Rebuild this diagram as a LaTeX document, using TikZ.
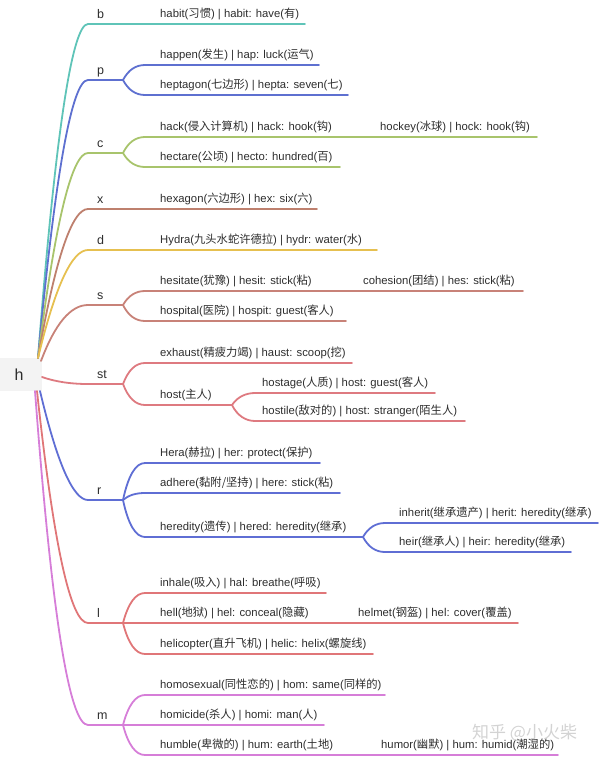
\documentclass[tikz,border=0pt]{standalone}
\usepackage{fontspec}
\setmainfont{Liberation Sans}
\newfontfamily\cjk{Noto Sans CJK SC}
\newcommand\zh[1]{{\cjk #1}}
\definecolor{txt}{RGB}{45,45,45}
\definecolor{rootgray}{RGB}{243,243,243}
\definecolor{colb}{RGB}{95,196,184}
\definecolor{colp}{RGB}{94,112,208}
\definecolor{colc}{RGB}{168,196,108}
\definecolor{colx}{RGB}{190,128,110}
\definecolor{cold}{RGB}{230,192,80}
\definecolor{cols}{RGB}{200,130,120}
\definecolor{colst}{RGB}{222,122,128}
\definecolor{colr}{RGB}{95,110,212}
\definecolor{coll}{RGB}{224,118,120}
\definecolor{colm}{RGB}{214,126,216}
\definecolor{wm}{RGB}{200,200,200}
\newcommand\forklink[5]{\draw[br,#1] (#2) .. controls +(5.3,#4) and +(-9.3,0) .. (#3) -- (#5);}
\begin{document}
\begin{tikzpicture}[x=1pt,y=-1pt,
  br/.style={line width=1.8pt, line cap=round, line join=round},
  leaf/.style={anchor=base west, inner sep=0pt, text=txt, font=\fontsize{11.3}{13}\selectfont},
  topic/.style={anchor=base west, inner sep=0pt, text=txt, font=\fontsize{12.5}{14}\selectfont},
  rootbox/.style={fill=rootgray, minimum width=46pt, minimum height=33pt, inner sep=0pt, text=txt, font=\fontsize{16}{18}\selectfont}
]
\useasboundingbox (0,0) rectangle (600,758);

% root
\node[rootbox] (h) at (19,374.5) {h};
\coordinate (hb) at (38,358);
\coordinate (hp) at (38,358);
\coordinate (hc) at (38,358);
\coordinate (hx) at (38,358);
\coordinate (hd) at (38,358);
\coordinate (hs) at (41,361);
\coordinate (hst) at (42,377);
\coordinate (hr) at (40,391);
\coordinate (hl) at (37,391);
\coordinate (hm) at (35,391);

% ---------- b
\node[topic] (b) at (97,18) {b};
\coordinate (b-s) at (88,24);
\node[leaf] (b1) at (160,17) {habit(\zh{习惯}) | habit: have(\zh{有})};
\coordinate (b1-e) at (305,24);
\draw[br,colb] (hb) .. controls +(17.3,-222.7) and +(-16,0) .. (b-s) -- (b1-e);

% ---------- p
\node[topic] (p) at (97,74) {p};
\coordinate (p-s) at (88,80); \coordinate (p-f) at (123,80);
\node[leaf] (p1) at (160,58) {happen(\zh{发生}) | hap: luck(\zh{运气})};
\coordinate (p1-s) at (145,65); \coordinate (p1-e) at (319,65);
\node[leaf] (p2) at (160,88) {heptagon(\zh{七边形}) | hepta: seven(\zh{七})};
\coordinate (p2-s) at (145,95); \coordinate (p2-e) at (348,95);
\draw[br,colp] (hp) .. controls +(17.3,-185.3) and +(-16,0) .. (p-s) -- (p-f);
\forklink{colp}{p-f}{p1-s}{-10}{p1-e}
\forklink{colp}{p-f}{p2-s}{10}{p2-e}

% ---------- c
\node[topic] (c) at (97,147) {c};
\coordinate (c-s) at (88,153); \coordinate (c-f) at (123,153);
\node[leaf] (c1) at (160,130) {hack(\zh{侵入计算机}) | hack: hook(\zh{钩})};
\coordinate (c1-s) at (145,137); \coordinate (c1-e) at (355,137);
\node[leaf] (c1a) at (380,130) {hockey(\zh{冰球}) | hock: hook(\zh{钩})};
\coordinate (c1a-s) at (365,137); \coordinate (c1a-e) at (537,137);
\node[leaf] (c2) at (160,160) {hectare(\zh{公顷}) | hecto: hundred(\zh{百})};
\coordinate (c2-s) at (145,167); \coordinate (c2-e) at (340,167);
\draw[br,colc] (hc) .. controls +(17.3,-136.7) and +(-16,0) .. (c-s) -- (c-f);
\forklink{colc}{c-f}{c1-s}{-10.7}{c1-e}
\draw[br,colc] (c1-e) -- (c1a-s) -- (c1a-e);
\forklink{colc}{c-f}{c2-s}{9.3}{c2-e}

% ---------- x
\node[topic] (x) at (97,203) {x};
\coordinate (x-s) at (88,209);
\node[leaf] (x1) at (160,202) {hexagon(\zh{六边形}) | hex: six(\zh{六})};
\coordinate (x1-e) at (317,209);
\draw[br,colx] (hx) .. controls +(17.3,-99.3) and +(-16,0) .. (x-s) -- (x1-e);

% ---------- d
\node[topic] (d) at (97,244) {d};
\coordinate (d-s) at (88,250);
\node[leaf] (d1) at (160,243) {Hydra(\zh{九头水蛇许德拉}) | hydr: water(\zh{水})};
\coordinate (d1-e) at (377,250);
\draw[br,cold] (hd) .. controls +(17.3,-72) and +(-16,0) .. (d-s) -- (d1-e);

% ---------- s
\node[topic] (s) at (97,299) {s};
\coordinate (s-s) at (88,305); \coordinate (s-f) at (123,305);
\node[leaf] (s1) at (160,284) {hesitate(\zh{犹豫}) | hesit: stick(\zh{粘})};
\coordinate (s1-s) at (145,291); \coordinate (s1-e) at (345,291);
\node[leaf] (s1a) at (363,284) {cohesion(\zh{团结}) | hes: stick(\zh{粘})};
\coordinate (s1a-s) at (352,291); \coordinate (s1a-e) at (523,291);
\node[leaf] (s2) at (160,314) {hospital(\zh{医院}) | hospit: guest(\zh{客人})};
\coordinate (s2-s) at (145,321); \coordinate (s2-e) at (346,321);
\draw[br,cols] (hs) .. controls +(14,-37.3) and +(-17.3,0) .. (s-s) -- (s-f);
\forklink{cols}{s-f}{s1-s}{-9.3}{s1-e}
\draw[br,cols] (s1-e) -- (s1a-s) -- (s1a-e);
\forklink{cols}{s-f}{s2-s}{10.7}{s2-e}

% ---------- st
\node[topic] (st) at (97,378) {st};
\coordinate (st-s) at (88,384); \coordinate (st-f) at (123,384);
\node[leaf] (st1) at (160,356) {exhaust(\zh{精疲力竭}) | haust: scoop(\zh{挖})};
\coordinate (st1-s) at (145,363); \coordinate (st1-e) at (352,363);
\node[leaf] (st2) at (160,398) {host(\zh{主人})};
\coordinate (st2-s) at (145,405); \coordinate (st2-f) at (232,405);
\node[leaf] (st2a) at (262,386) {hostage(\zh{人质}) | host: guest(\zh{客人})};
\coordinate (st2a-s) at (255,393); \coordinate (st2a-e) at (435,393);
\node[leaf] (st2b) at (262,414) {hostile(\zh{敌对的}) | host: stranger(\zh{陌生人})};
\coordinate (st2b-s) at (255,421); \coordinate (st2b-e) at (465,421);
\draw[br,colst] (hst) .. controls +(13.3,4.7) and +(-17.3,0) .. (st-s) -- (st-f);
\forklink{colst}{st-f}{st1-s}{-14}{st1-e}
\forklink{colst}{st-f}{st2-s}{14}{st2-f}
\forklink{colst}{st2-f}{st2a-s}{-8}{st2a-e}
\forklink{colst}{st2-f}{st2b-s}{10.7}{st2b-e}

% ---------- r
\node[topic] (r) at (97,494) {r};
\coordinate (r-s) at (88,500); \coordinate (r-f) at (123,500);
\node[leaf] (r1) at (160,456) {Hera(\zh{赫拉}) | her: protect(\zh{保护})};
\coordinate (r1-s) at (145,463); \coordinate (r1-e) at (320,463);
\node[leaf] (r2) at (160,486) {adhere(\zh{黏附/坚持}) | here: stick(\zh{粘})};
\coordinate (r2-s) at (145,493); \coordinate (r2-e) at (340,493);
\node[leaf] (r3) at (160,530) {heredity(\zh{遗传}) | hered: heredity(\zh{继承})};
\coordinate (r3-s) at (145,537); \coordinate (r3-f) at (363,537);
\node[leaf] (r3a) at (399,516) {inherit(\zh{继承遗产}) | herit: heredity(\zh{继承})};
\coordinate (r3a-s) at (385,523); \coordinate (r3a-e) at (598,523);
\node[leaf] (r3b) at (399,545) {heir(\zh{继承人}) | heir: heredity(\zh{继承})};
\coordinate (r3b-s) at (385,552); \coordinate (r3b-e) at (571,552);
\draw[br,colr] (hr) .. controls +(17.3,72.7) and +(-14.7,0) .. (r-s) -- (r-f);
\forklink{colr}{r-f}{r1-s}{-24.7}{r1-e}
\forklink{colr}{r-f}{r2-s}{-4.7}{r2-e}
\forklink{colr}{r-f}{r3-s}{24.7}{r3-f}
\forklink{colr}{r3-f}{r3a-s}{-9.3}{r3a-e}
\forklink{colr}{r3-f}{r3b-s}{10}{r3b-e}

% ---------- l
\node[topic] (l) at (97,617) {l};
\coordinate (l-s) at (88,623); \coordinate (l-f) at (123,623);
\node[leaf] (l1) at (160,586) {inhale(\zh{吸入}) | hal: breathe(\zh{呼吸})};
\coordinate (l1-s) at (145,593); \coordinate (l1-e) at (326,593);
\node[leaf] (l2) at (160,616) {hell(\zh{地狱}) | hel: conceal(\zh{隐藏})};
\coordinate (l2-s) at (145,623); \coordinate (l2-e) at (340,623);
\node[leaf] (l2a) at (358,616) {helmet(\zh{钢盔}) | hel: cover(\zh{覆盖})};
\coordinate (l2a-s) at (348,623); \coordinate (l2a-e) at (518,623);
\node[leaf] (l3) at (160,647) {helicopter(\zh{直升飞机}) | helic: helix(\zh{螺旋线})};
\coordinate (l3-s) at (145,654); \coordinate (l3-e) at (373,654);
\draw[br,coll] (hl) .. controls +(16.7,154.7) and +(-17.3,0) .. (l-s) -- (l-f);
\forklink{coll}{l-f}{l1-s}{-20}{l1-e}
\draw[br,coll] (l-f) -- (l2-s) -- (l2-e) -- (l2a-s) -- (l2a-e);
\forklink{coll}{l-f}{l3-s}{20.7}{l3-e}

% ---------- m
\node[topic] (m) at (97,719) {m};
\coordinate (m-s) at (88,725); \coordinate (m-f) at (123,725);
\node[leaf] (m1) at (160,688) {homosexual(\zh{同性恋的}) | hom: same(\zh{同样的})};
\coordinate (m1-s) at (145,695); \coordinate (m1-e) at (385,695);
\node[leaf] (m2) at (160,718) {homicide(\zh{杀人}) | homi: man(\zh{人})};
\coordinate (m2-s) at (145,725); \coordinate (m2-e) at (324,725);
\node[leaf] (m3) at (160,748) {humble(\zh{卑微的}) | hum: earth(\zh{土地})};
\coordinate (m3-s) at (145,755); \coordinate (m3-e) at (365,755);
\node[leaf] (m3a) at (381,748) {humor(\zh{幽默}) | hum: humid(\zh{潮湿的})};
\coordinate (m3a-s) at (372,755); \coordinate (m3a-e) at (558,755);
\draw[br,colm] (hm) .. controls +(16.7,222.7) and +(-18.7,0) .. (m-s) -- (m-f);
\forklink{colm}{m-f}{m1-s}{-20}{m1-e}
\draw[br,colm] (m-f) -- (m2-s) -- (m2-e);
\forklink{colm}{m-f}{m3-s}{20}{m3-e}
\draw[br,colm] (m3-e) -- (m3a-s) -- (m3a-e);

% watermark
\node[anchor=west, inner sep=0pt, text=wm, opacity=0.8, font=\cjk\fontsize{17}{19}\selectfont] (wmk) at (472,733) {知乎 @小火柴};
\end{tikzpicture}
\end{document}
